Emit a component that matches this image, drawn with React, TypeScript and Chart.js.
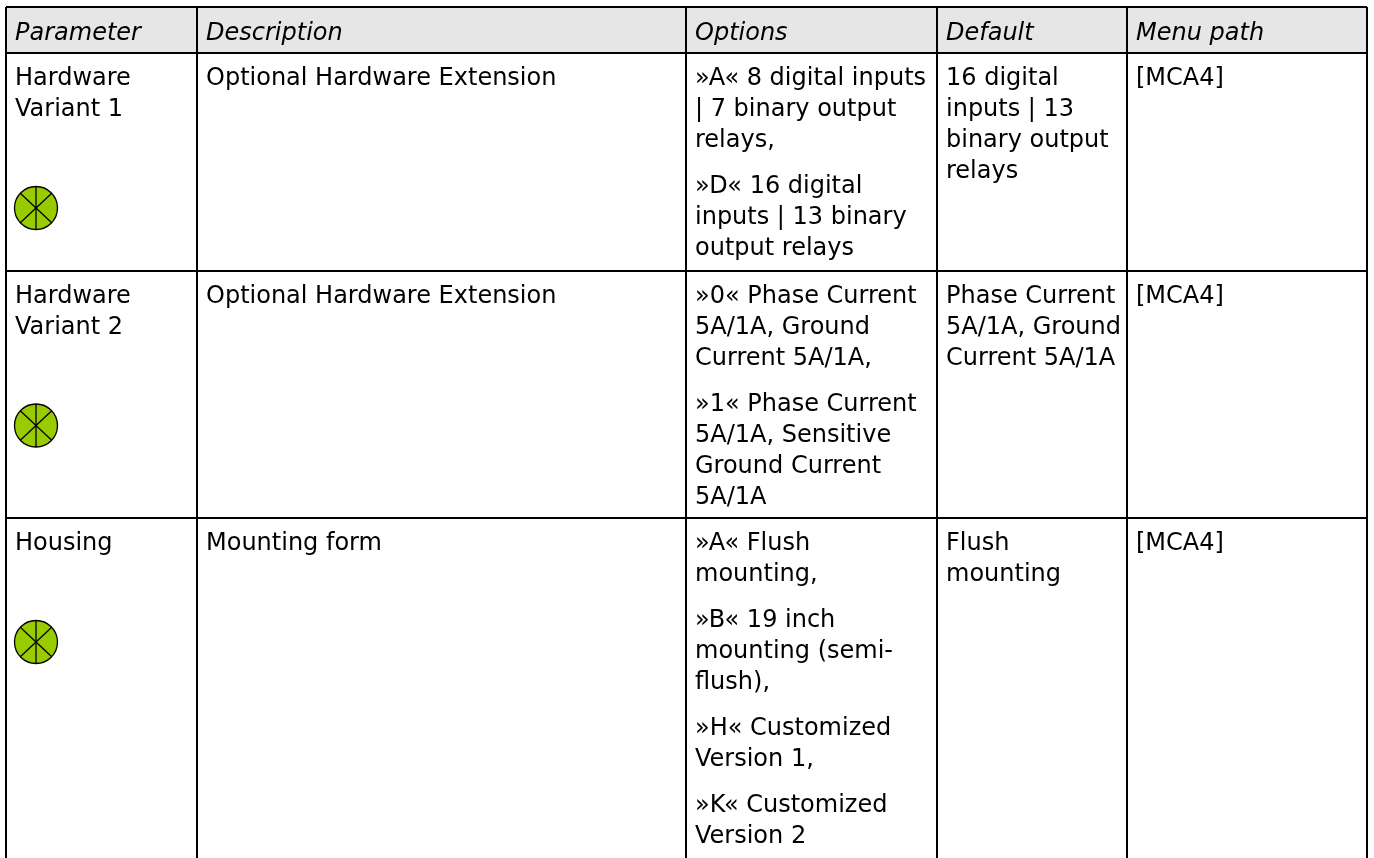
import React, { useEffect, useRef } from "react";
import { Chart, registerables } from "chart.js";

Chart.register(...registerables);

const WIDTH = 1374;
const HEIGHT = 858;
const FONT = '"DejaVu Sans"';
const FONT_SIZE = 24;
const LINE_STEP = 31;

const headers = ["Parameter", "Description", "Options", "Default", "Menu path"];
const parameterCol = [
  ["Hardware", "Variant 1"],
  ["Hardware", "Variant 2"],
  ["Housing"],
];
const descriptionCol = [
  ["Optional Hardware Extension"],
  ["Optional Hardware Extension"],
  ["Mounting form"],
];
const optionsCol = [
  [["»A« 8 digital inputs", "| 7 binary output", "relays,"], ["»D« 16 digital", "inputs | 13 binary", "output relays"]],
  [["»0« Phase Current", "5A/1A, Ground", "Current 5A/1A,"], ["»1« Phase Current", "5A/1A, Sensitive", "Ground Current", "5A/1A"]],
  [["»A« Flush", "mounting,"], ["»B« 19 inch", "mounting (semi-", "flush),"], ["»H« Customized", "Version 1,"], ["»K« Customized", "Version 2"]],
];
const defaultCol = [
  ["16 digital", "inputs | 13", "binary output", "relays"],
  ["Phase Current", "5A/1A, Ground", "Current 5A/1A"],
  ["Flush", "mounting"],
];
const menuCol = [["[MCA4]"], ["[MCA4]"], ["[MCA4]"]];

const columnEdges = [6, 197, 686, 937, 1127, 1367];
const rowEdges = [7, 53, 271, 518];
const iconCenters = [
  { x: 36, y: 208 },
  { x: 36, y: 425.5 },
  { x: 36, y: 642 },
];
const TEXT_PAD_X = 9;

const App = () => {
  const ref = useRef<HTMLCanvasElement>(null);
  useEffect(() => {
    const tablePlugin = {
      id: "tablePlugin",
      beforeDatasetsDraw(chart: any) {
        const { ctx, scales } = chart;
        const x = scales.x;
        const y = scales.y;
        const right = columnEdges[columnEdges.length - 1];
        ctx.save();
        ctx.fillStyle = "#e6e6e6";
        ctx.fillRect(x.getPixelForValue(columnEdges[0]), y.getPixelForValue(rowEdges[0]), x.getPixelForValue(right) - x.getPixelForValue(columnEdges[0]), y.getPixelForValue(rowEdges[1]) - y.getPixelForValue(rowEdges[0]));
        ctx.restore();
      },
      afterDatasetsDraw(chart: any) {
        const { ctx, scales } = chart;
        const px = (v: number) => scales.x.getPixelForValue(v);
        const py = (v: number) => scales.y.getPixelForValue(v);
        ctx.save();
        ctx.strokeStyle = "#000";
        ctx.lineWidth = 1.3;
        iconCenters.forEach((c) => {
          const r = 21.5;
          [90, 43, -43].forEach((deg) => {
            const a = (deg * Math.PI) / 180;
            ctx.beginPath();
            ctx.moveTo(px(c.x) - r * Math.cos(a), py(c.y) - r * Math.sin(a));
            ctx.lineTo(px(c.x) + r * Math.cos(a), py(c.y) + r * Math.sin(a));
            ctx.stroke();
          });
        });
        ctx.fillStyle = "#000";
        ctx.textBaseline = "alphabetic";
        ctx.font = `italic ${FONT_SIZE}px ${FONT}`;
        headers.forEach((h, i) => ctx.fillText(h, px(columnEdges[i] + TEXT_PAD_X), py(40)));
        ctx.font = `${FONT_SIZE}px ${FONT}`;
        const top = (r: number) => rowEdges[r + 1] + 32;
        const simple = [parameterCol, descriptionCol, null, defaultCol, menuCol];
        simple.forEach((col, ci) => {
          if (!col) return;
          col.forEach((lines, r) => {
            lines.forEach((t, li) => ctx.fillText(t, px(columnEdges[ci] + TEXT_PAD_X), py(top(r) + li * LINE_STEP)));
          });
        });
        optionsCol.forEach((paras, r) => {
          let yy = top(r);
          paras.forEach((lines) => {
            lines.forEach((t) => {
              ctx.fillText(t, px(columnEdges[2] + TEXT_PAD_X), py(yy));
              yy += LINE_STEP;
            });
            yy += 15;
          });
        });
        ctx.restore();
      },
    };

    const lineDs = (pts: { x: number; y: number }[]) => ({
      type: "line" as const,
      data: pts,
      borderColor: "#000",
      borderWidth: 2,
      pointRadius: 0,
      fill: false,
    });

    const chart = new Chart(ref.current!, {
      type: "scatter",
      data: {
        datasets: [
          ...columnEdges.map((c) => lineDs([{ x: c, y: rowEdges[0] }, { x: c, y: HEIGHT }])),
          ...rowEdges.map((r) => lineDs([{ x: columnEdges[0], y: r }, { x: columnEdges[columnEdges.length - 1], y: r }])),
          {
            data: iconCenters,
            pointStyle: "circle",
            pointRadius: 21.5,
            backgroundColor: "#99cc00",
            borderColor: "#000",
            borderWidth: 1.3,
          } as any,
        ],
      },
      options: {
        animation: false,
        responsive: false,
        layout: { padding: 0, autoPadding: false },
        plugins: { legend: { display: false }, tooltip: { enabled: false } },
        scales: {
          x: { type: "linear", min: 0, max: WIDTH, display: false },
          y: { type: "linear", min: 0, max: HEIGHT, reverse: true, display: false },
        },
      },
      plugins: [tablePlugin],
    });
    return () => chart.destroy();
  }, []);
  return (
    <canvas
      ref={ref}
      width={WIDTH}
      height={HEIGHT}
      style={{ position: "absolute", left: 0, top: 0, width: WIDTH, height: HEIGHT, background: "#fff" }}
    />
  );
};

export default App;
